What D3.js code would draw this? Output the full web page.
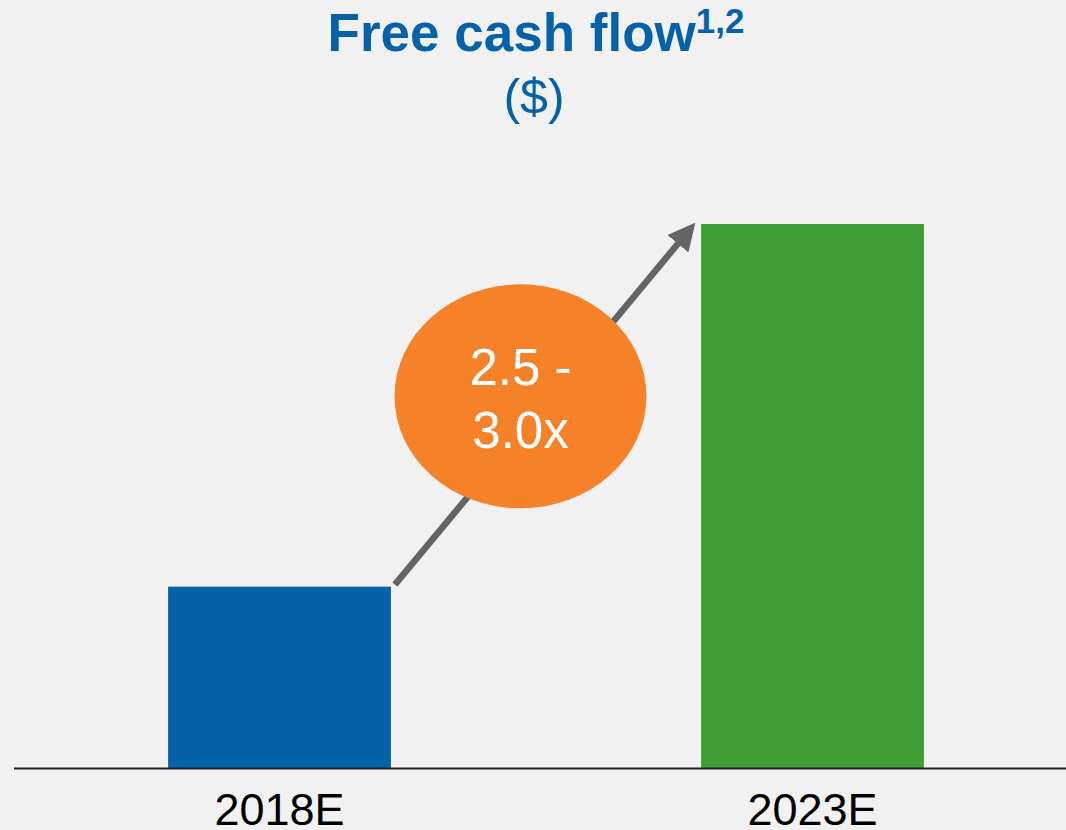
<!DOCTYPE html>
<html><head><meta charset="utf-8">
<script src="https://cdn.jsdelivr.net/npm/d3@7"></script>
<style>
html,body{margin:0;padding:0;background:#f1f1f1;}
svg{display:block;font-family:"Liberation Sans",Arial,sans-serif;}
</style></head>
<body>
<svg id="chart" width="1066" height="830"></svg>
<script>
const categories = ["2018E", "2023E"];
const values = [1.0, 3.0];
const barColors = ["#0561a8", "#3f9d35"];
const titleText = "Free cash flow";
const titleSup = "1,2";
const unitText = "($)";
const multipleLines = ["2.5 -", "3.0x"];

const W = 1066, H = 830;
const svg = d3.select("#chart");
svg.append("rect").attr("width", W).attr("height", H).attr("fill", "#f1f1f1");

const x = d3.scaleBand().domain(categories).range([13, 1079]).paddingInner(0.582).paddingOuter(0.291);
const y = d3.scaleLinear().domain([0, 3.0]).range([768, 224]);

// Title
const t = svg.append("text").attr("x", 536).attr("y", 51).attr("text-anchor", "middle")
  .attr("fill", "#0561a8").attr("font-weight", "bold").attr("font-size", 53);
t.append("tspan").text(titleText);
t.append("tspan").attr("font-size", 35).attr("dy", -18).text(titleSup);
svg.append("text").attr("x", 534).attr("y", 114).attr("text-anchor", "middle")
  .attr("fill", "#0561a8").attr("font-size", 50).text(unitText);

// Bars
svg.selectAll("rect.bar").data(categories).enter().append("rect").attr("class", "bar")
  .attr("x", d => x(d)).attr("width", x.bandwidth())
  .attr("y", (d, i) => y(values[i])).attr("height", (d, i) => y(0) - y(values[i]))
  .attr("fill", (d, i) => barColors[i]);

// Axis
const axis = svg.append("g").attr("transform", `translate(0,${y(0)})`)
  .call(d3.axisBottom(x).tickSize(0).tickPadding(0));
axis.select(".domain").attr("d", "M14,0.5H1066").attr("stroke", "#222").attr("stroke-width", 2);
axis.selectAll(".tick text").attr("font-size", 45).attr("fill", "#000")
  .attr("font-family", "'Liberation Sans',Arial,sans-serif").attr("dy", null).attr("y", 57);

// Arrow
const x0 = x(categories[0]) + x.bandwidth() + 4, y0 = y(values[0]) - 2;
const x1 = x(categories[1]) - 5, y1 = y(values[1]) - 2;
const defs = svg.append("defs");
defs.append("marker").attr("id", "ah").attr("viewBox", "0 0 10 10").attr("refX", 7).attr("refY", 5)
  .attr("markerWidth", 4.2).attr("markerHeight", 4.2).attr("orient", "auto").attr("markerUnits", "strokeWidth")
  .append("path").attr("d", "M0,0L10,5L0,10z").attr("fill", "#636466");
svg.append("line").attr("x1", x0).attr("y1", y0).attr("x2", x1 - 6).attr("y2", y1 + 7)
  .attr("stroke", "#636466").attr("stroke-width", 6.5).attr("marker-end", "url(#ah)");

// Ellipse
const cx = (x0 + x1) / 2 - 25, cy = (y0 + y1) / 2 - 7;
svg.append("ellipse").attr("cx", cx).attr("cy", cy).attr("rx", 126).attr("ry", 112).attr("fill", "#f58229");
svg.append("text").attr("text-anchor", "middle").attr("fill", "#fff").attr("font-size", 51)
  .selectAll("tspan").data(multipleLines).enter().append("tspan")
  .attr("x", cx).attr("y", (d, i) => cy - 11 + i * 63).text(d => d);
</script>
</body></html>
